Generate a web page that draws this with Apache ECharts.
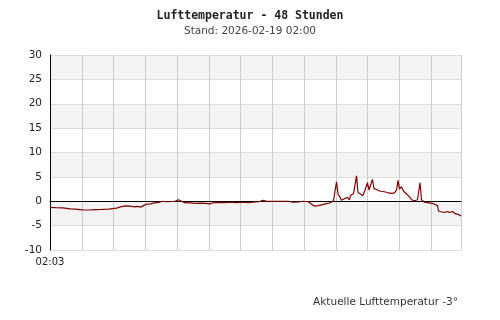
<!DOCTYPE html>
<html>
<head>
<meta charset="utf-8">
<script src="https://cdn.jsdelivr.net/npm/echarts@6/dist/echarts.min.js"></script>
<style>html,body{margin:0;padding:0;background:#fff}#c{width:500px;height:320px}</style>
</head>
<body>
<div id="c"></div>
<script>
// hours since 02:03
var hours = [0.00,0.64,1.46,2.39,2.98,3.80,4.50,5.31,6.13,6.83,7.30,7.77,8.23,8.82,9.40,9.87,10.22,10.57,10.92,11.27,11.74,12.20,12.67,13.14,13.61,14.07,14.54,15.01,15.24,15.71,16.41,17.11,17.58,18.16,18.63,19.09,19.68,20.38,21.08,21.78,22.48,23.18,23.88,24.35,24.93,25.28,25.75,26.92,27.85,28.32,29.02,29.49,30.19,30.54,30.89,31.36,31.82,32.29,32.76,33.11,33.34,33.46,33.64,33.81,34.04,34.39,34.74,34.98,35.09,35.45,35.68,35.80,35.97,36.26,36.50,36.73,36.96,37.08,37.26,37.43,37.66,37.84,38.13,38.48,38.83,39.18,39.53,39.88,40.23,40.47,40.64,40.82,41.05,41.28,41.52,41.75,41.99,42.22,42.57,42.92,43.10,43.21,43.39,43.74,44.09,44.44,44.79,45.02,45.26,45.37,45.72,46.07,46.42,46.66,47.01,47.36,47.71,48.00];
var temps = [-1.25,-1.3,-1.35,-1.55,-1.6,-1.75,-1.8,-1.7,-1.65,-1.6,-1.5,-1.4,-1.15,-0.95,-1.0,-1.15,-1.05,-1.2,-0.9,-0.6,-0.55,-0.35,-0.25,0.0,-0.1,-0.05,-0.05,0.3,-0.05,-0.3,-0.35,-0.45,-0.4,-0.45,-0.55,-0.3,-0.25,-0.3,-0.2,-0.3,-0.2,-0.3,-0.15,-0.1,0.2,0.0,0.0,0.0,0.0,-0.2,-0.15,0.0,-0.1,-0.6,-1.0,-0.9,-0.7,-0.5,-0.3,0.1,0.5,4.0,1.5,1.0,0.2,0.5,0.8,0.3,1.2,1.6,1.5,5.2,1.8,1.5,1.1,2.0,1.9,3.8,2.3,2.5,4.5,2.6,2.4,2.1,2.0,1.9,1.7,1.6,1.7,2.3,4.3,2.5,3.0,2.1,1.7,1.5,0.9,0.3,0.1,0.3,0.4,3.8,0.3,-0.2,-0.3,-0.4,-0.5,-0.9,-0.9,-2.0,-2.2,-2.3,-2.1,-2.3,-2.1,-2.6,-2.7,-3.05];
var yTicks = [-10,-5,0,5,10,15,20,25,30];
var startLabel = '02:03';
var titleText = 'Lufttemperatur - 48 Stunden';
var subText = 'Stand: 2026-02-19 02:00';
var footText = 'Aktuelle Lufttemperatur -3\u00b0';

var chart = echarts.init(document.getElementById('c'), null, {renderer:'canvas'});
var seriesData = hours.map(function(h,i){return [h, temps[i]];});
chart.setOption({
  animation:false,
  backgroundColor:'#fff',
  title:[
    {text:titleText,left:'center',top:5,textStyle:{fontFamily:'DejaVu Sans Mono',fontWeight:'bold',fontSize:11.5,color:'#222'}},
    {text:subText,left:'center',top:21,textStyle:{fontFamily:'DejaVu Sans',fontWeight:'normal',fontSize:10.5,color:'#444'}},
    {text:footText,right:37,top:292,textStyle:{fontFamily:'DejaVu Sans',fontWeight:'normal',fontSize:10.5,color:'#333'}}
  ],
  grid:{left:50,right:39,top:55,bottom:70,containLabel:false},
  xAxis:{
    type:'value',min:0,max:48,interval:3.709,
    axisLine:{show:true,lineStyle:{color:'#000',width:1}},
    axisTick:{show:false},
    axisLabel:{show:true,showMaxLabel:false,formatter:function(v){return v===0?startLabel:'';},fontFamily:'DejaVu Sans',fontSize:10,color:'#222',margin:7},
    splitLine:{show:true,lineStyle:{color:'#cccccc',width:1}}
  },
  yAxis:{
    type:'value',min:yTicks[0],max:yTicks[yTicks.length-1],interval:5,
    axisLine:{show:true,lineStyle:{color:'#000',width:1}},
    axisTick:{show:false},
    axisLabel:{fontFamily:'DejaVu Sans',fontSize:10.5,color:'#222',margin:8},
    splitLine:{show:true,lineStyle:{color:'#dddddd',width:1}},
    splitArea:{show:true,areaStyle:{color:['#ffffff','#f3f3f3']}}
  },
  series:[{
    type:'line',data:seriesData,showSymbol:false,symbol:'none',
    lineStyle:{color:'#800000',width:1.2},
    markLine:{silent:true,symbol:'none',label:{show:false},lineStyle:{color:'#000',width:1,type:'solid'},data:[{yAxis:0}],z:1},
    z:3
  }]
});
</script>
</body>
</html>
